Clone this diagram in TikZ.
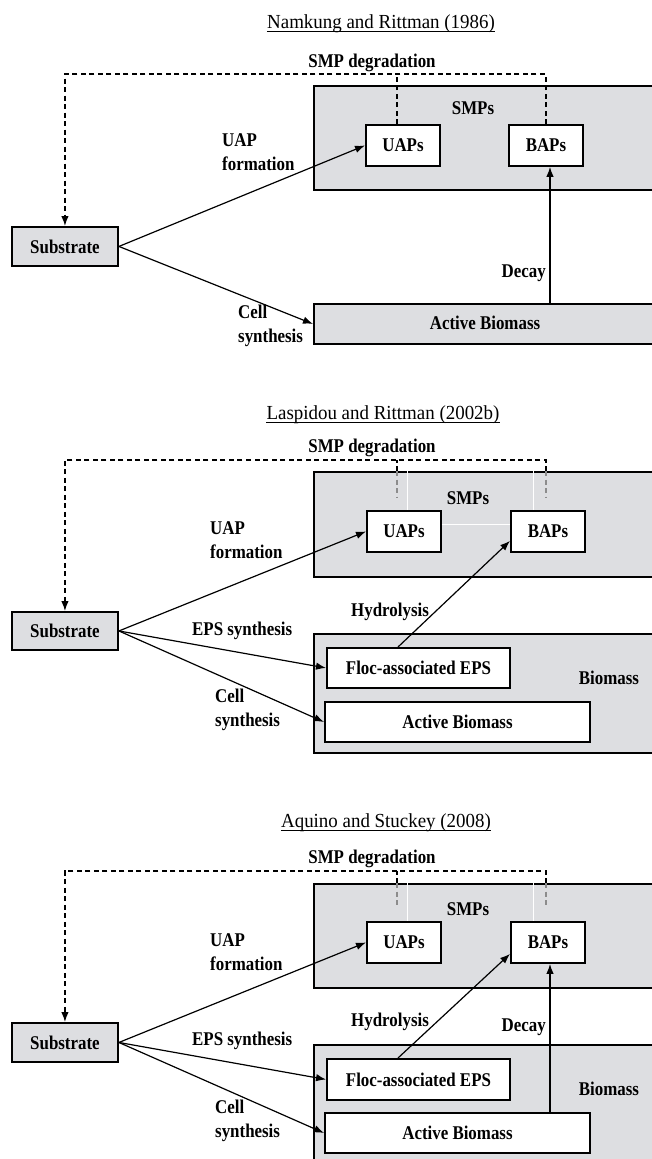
\documentclass[tikz,border=0pt]{standalone}
\usepackage{fontspec}
\setmainfont{Liberation Serif}[FakeStretch=0.87]
\newfontfamily\titlefont{Liberation Serif}[FakeStretch=0.95]
\usetikzlibrary{arrows.meta}
\definecolor{boxgray}{RGB}{221,222,225}
\begin{document}
\begin{tikzpicture}[x=1bp,y=-1bp,
  lbl/.style={font=\fontsize{19.5}{23.5}\selectfont\bfseries, inner sep=0pt, align=left},
  ttl/.style={font=\titlefont\fontsize{20}{24}\selectfont, inner sep=0pt, anchor=base},
  box/.style={draw, line width=1.9bp, inner sep=0pt, font=\fontsize{19.5}{23.5}\selectfont\bfseries, anchor=north west},
  gbox/.style={box, fill=boxgray},
  wbox/.style={box, fill=white},
  conn/.style={line width=1.2bp, -{Latex[length=10bp,width=7.5bp]}},
  dconn/.style={line width=1.3bp, dash pattern=on 5bp off 3.5bp},
  gdconn/.style={dconn, black!45},
  ghost/.style={white, line width=0.8bp},
  uline/.style={line width=0.9bp}
]
\path[use as bounding box] (0,0) rectangle (652,1159);
\clip (0,0) rectangle (652,1159);

% ================= Panel 1 =================
\node[ttl] (t1) at (381,28) {Namkung and Rittman (1986)};
\draw[uline] ([yshift=-3.7bp]t1.base west) -- ([yshift=-3.7bp]t1.base east);
\node[lbl, anchor=base] (deg1) at (372,67) {SMP degradation};
\node[gbox, minimum width=357bp, minimum height=104bp] (smp1) at (313,85) {};
\node[lbl, anchor=base] (smpl1) at (473,114) {SMPs};
\node[wbox, minimum width=74bp, minimum height=41bp] (uap1) at (365,124) {UAPs};
\node[wbox, minimum width=74bp, minimum height=41bp] (bap1) at (508,124) {BAPs};
\node[gbox, minimum width=106bp, minimum height=39bp] (sub1) at (11,226) {Substrate};
\node[gbox, minimum width=357bp, minimum height=40bp] (ab1) at (313,303) {};
\node[lbl, anchor=base] (abl1) at (485,329) {Active Biomass};
\node[lbl, anchor=base west] (uf1) at (222,170) {UAP\\formation};
\node[lbl, anchor=base west] (cs1) at (238,342) {Cell\\synthesis};
\node[lbl, anchor=base east] (dec1) at (546,277) {Decay};

\coordinate (dtop1) at (64,74);
\coordinate (du1) at (397,74);
\coordinate (dx1) at (550,0);
\draw[conn] (sub1.east) -- (uap1.west);
\draw[conn] (sub1.east) -- (ab1.west);
\draw[conn] (ab1.north -| dx1) -- (bap1.south -| dx1);
\draw[dconn, -{Latex[length=10bp,width=7.5bp]}] (bap1.north) -- (bap1.north |- dtop1) -- (sub1.north |- dtop1) -- (sub1.north);
\draw[dconn] (uap1.north -| du1) -- (du1);

% ================= Panel 2 =================
\node[ttl] (t2) at (383,419) {Laspidou and Rittman (2002b)};
\draw[uline] ([yshift=-3.7bp]t2.base west) -- ([yshift=-3.7bp]t2.base east);
\node[lbl, anchor=base] (deg2) at (372,452) {SMP degradation};
\node[gbox, minimum width=357bp, minimum height=105bp] (smp2) at (313,471) {};
\node[lbl, anchor=base] (smpl2) at (468,504) {SMPs};
\node[wbox, minimum width=74bp, minimum height=41bp] (uap2) at (366,510) {UAPs};
\node[wbox, minimum width=74bp, minimum height=41bp] (bap2) at (510,510) {BAPs};
\node[gbox, minimum width=106bp, minimum height=38bp] (sub2) at (11,611) {Substrate};
\node[gbox, minimum width=357bp, minimum height=119bp] (bio2) at (313,633) {};
\node[lbl, anchor=base] (biol2) at (609,684) {Biomass};
\node[wbox, minimum width=183bp, minimum height=40bp] (floc2) at (326,647) {Floc-associated EPS};
\node[wbox, minimum width=265bp, minimum height=40bp] (act2) at (324,701) {Active Biomass};
\node[lbl, anchor=base west] (uf2) at (210,558) {UAP\\formation};
\node[lbl, anchor=base west] (eps2) at (192,635) {EPS synthesis};
\node[lbl, anchor=base west] (cs2) at (215,726) {Cell\\synthesis};
\node[lbl, anchor=base west] (hyd2) at (351,616) {Hydrolysis};

\coordinate (dtop2) at (64,460);
\coordinate (du2) at (397,460);
\coordinate (db2) at (546,460);
\coordinate (dend2) at (0,497);
\coordinate (hx2) at (398,0);
\coordinate (g2a) at (407,0);
\coordinate (g2b) at (533,0);
\coordinate (g2h) at (0,524);
\draw[ghost] (smp2.north -| g2a) -- (uap2.north -| g2a);
\draw[ghost] (smp2.north -| g2b) -- (bap2.north -| g2b);
\draw[ghost] (uap2.east |- g2h) -- (bap2.west |- g2h);
\draw[conn] (sub2.east) -- (uap2.west);
\draw[conn] (sub2.east) -- (floc2.west);
\draw[conn] (sub2.east) -- (act2.west);
\draw[conn] (floc2.north -| hx2) -- ([yshift=12bp]bap2.south west);
\draw[dconn, -{Latex[length=10bp,width=7.5bp]}] (smp2.north -| db2) -- (db2) -- (sub2.north |- dtop2) -- (sub2.north);
\draw[dconn] (smp2.north -| du2) -- (du2);
\draw[gdconn] (smp2.north -| du2) -- (du2 |- dend2);
\draw[gdconn] (smp2.north -| db2) -- (db2 |- dend2);

% ================= Panel 3 =================
\node[ttl] (t3) at (386,827) {Aquino and Stuckey (2008)};
\draw[uline] ([yshift=-3.7bp]t3.base west) -- ([yshift=-3.7bp]t3.base east);
\node[lbl, anchor=base] (deg3) at (372,863) {SMP degradation};
\node[gbox, minimum width=357bp, minimum height=104bp] (smp3) at (313,883) {};
\node[lbl, anchor=base] (smpl3) at (468,915) {SMPs};
\node[wbox, minimum width=74bp, minimum height=41bp] (uap3) at (366,921) {UAPs};
\node[wbox, minimum width=74bp, minimum height=41bp] (bap3) at (510,921) {BAPs};
\node[gbox, minimum width=106bp, minimum height=39bp] (sub3) at (11,1022) {Substrate};
\node[gbox, minimum width=357bp, minimum height=140bp] (bio3) at (313,1044) {};
\node[lbl, anchor=base] (biol3) at (609,1095) {Biomass};
\node[wbox, minimum width=183bp, minimum height=41bp] (floc3) at (326,1058) {Floc-associated EPS};
\node[wbox, minimum width=265bp, minimum height=40bp] (act3) at (324,1112) {Active Biomass};
\node[lbl, anchor=base west] (uf3) at (210,970) {UAP\\formation};
\node[lbl, anchor=base west] (eps3) at (192,1045) {EPS synthesis};
\node[lbl, anchor=base west] (cs3) at (215,1137) {Cell\\synthesis};
\node[lbl, anchor=base west] (hyd3) at (351,1026) {Hydrolysis};
\node[lbl, anchor=base east] (dec3) at (546,1031) {Decay};

\coordinate (dtop3) at (64,871);
\coordinate (du3) at (397,871);
\coordinate (db3) at (546,871);
\coordinate (dend3) at (0,907);
\coordinate (hx3) at (398,0);
\coordinate (dx3) at (550,0);
\coordinate (g3a) at (407,0);
\coordinate (g3b) at (533,0);
\draw[ghost] (smp3.north -| g3a) -- (uap3.north -| g3a);
\draw[ghost] (smp3.north -| g3b) -- (bap3.north -| g3b);
\draw[conn] (sub3.east) -- (uap3.west);
\draw[conn] (sub3.east) -- (floc3.west);
\draw[conn] (sub3.east) -- (act3.west);
\draw[conn] (floc3.north -| hx3) -- ([yshift=10bp]bap3.south west);
\draw[conn] (act3.north -| dx3) -- (bap3.south -| dx3);
\draw[dconn, -{Latex[length=10bp,width=7.5bp]}] (smp3.north -| db3) -- (db3) -- (sub3.north |- dtop3) -- (sub3.north);
\draw[dconn] (smp3.north -| du3) -- (du3);
\draw[gdconn] (smp3.north -| du3) -- (du3 |- dend3);
\draw[gdconn] (smp3.north -| db3) -- (db3 |- dend3);
\end{tikzpicture}
\end{document}
